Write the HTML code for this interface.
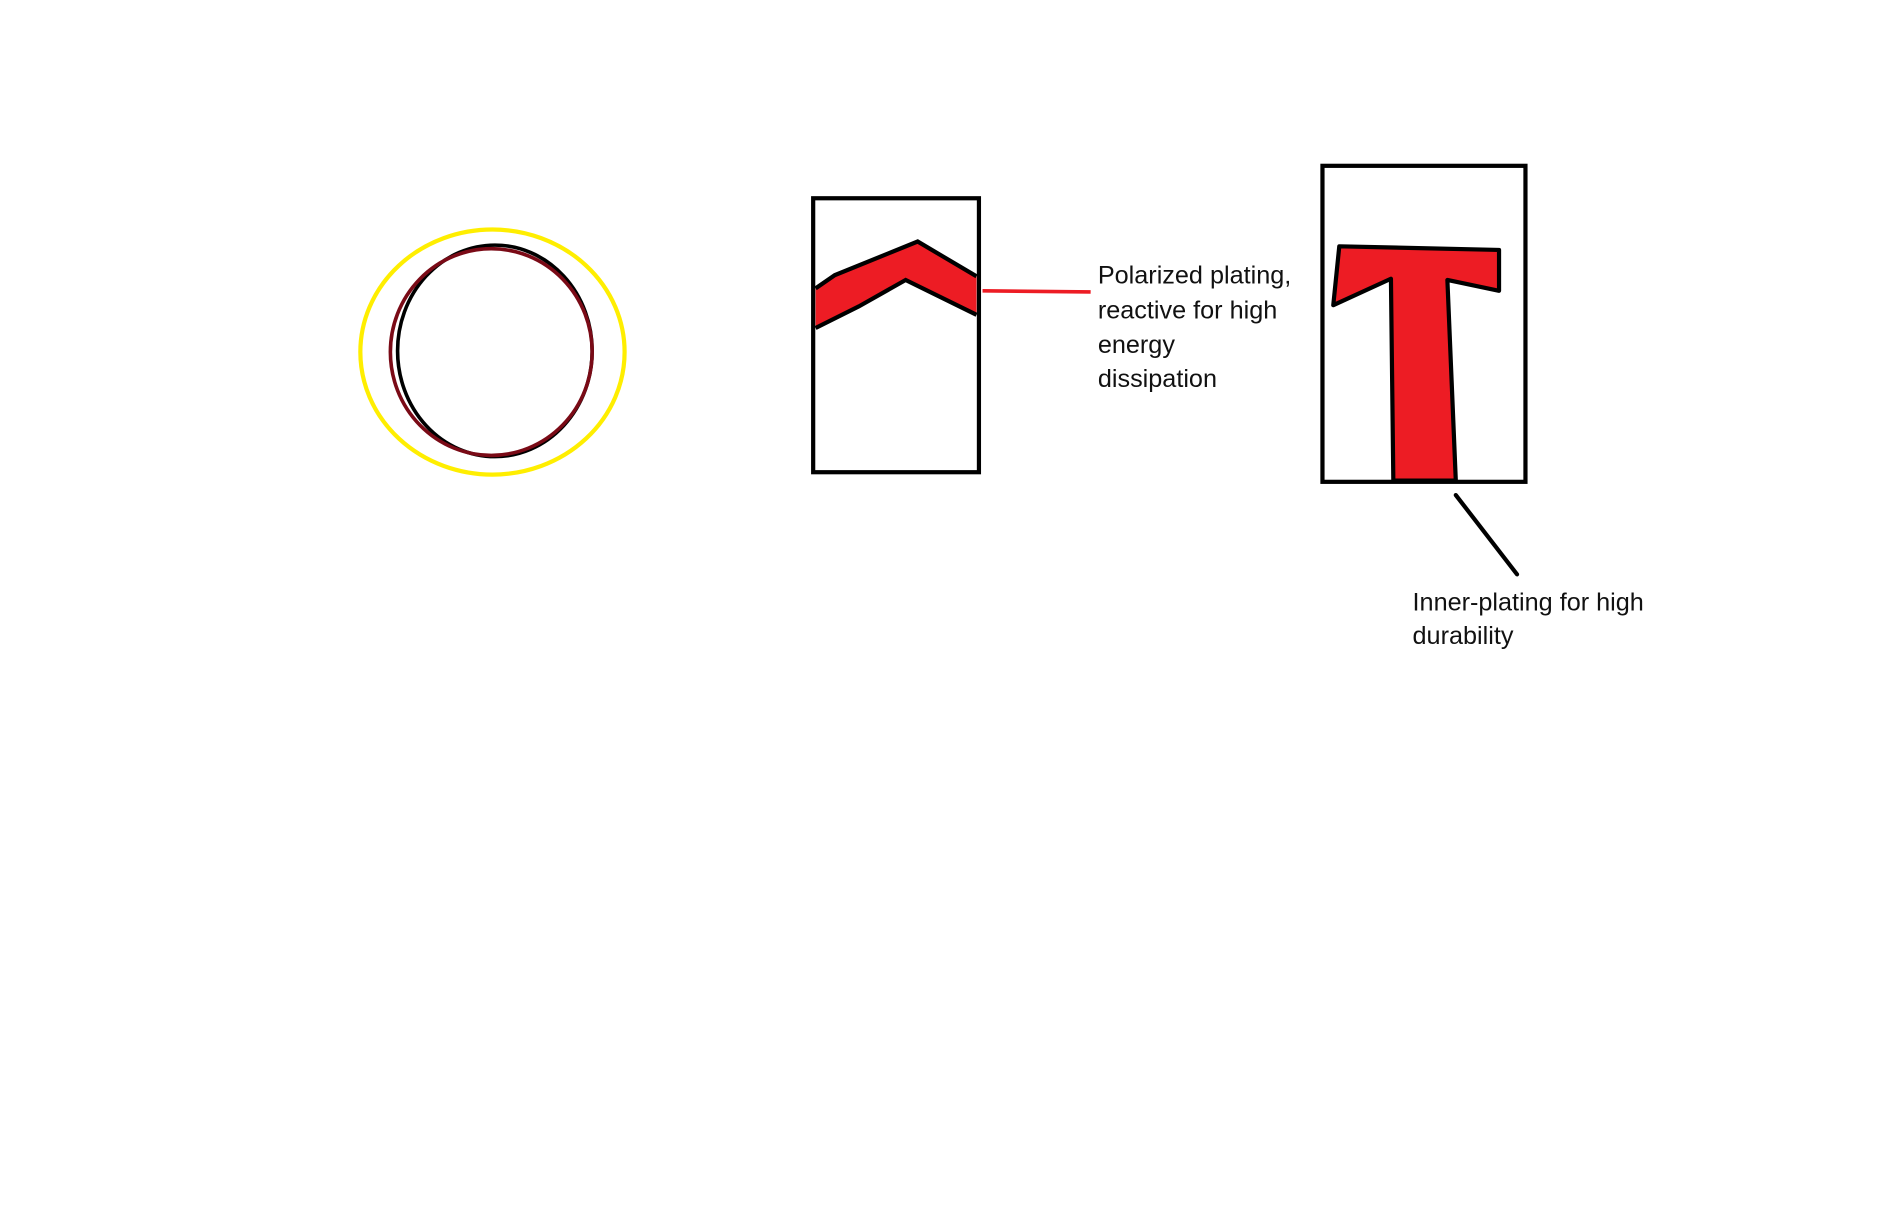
<!DOCTYPE html>
<html><head><meta charset="utf-8"><style>
html,body{margin:0;padding:0;background:#fff;width:1881px;height:1228px;overflow:hidden}
svg{display:block}
text{font-family:"Liberation Sans",sans-serif;font-size:21px;fill:#111}
</style></head><body>
<svg width="1881" height="1228" viewBox="0 0 1566 1022" preserveAspectRatio="none">
<rect width="1566" height="1022" fill="#fff"/>
<g>
<ellipse cx="410" cy="293" rx="110" ry="102" fill="none" stroke="#ffee00" stroke-width="3.5"/>
<ellipse cx="412" cy="292" rx="81" ry="88" fill="none" stroke="#000" stroke-width="3"/>
<ellipse cx="409" cy="293" rx="84" ry="86" fill="none" stroke="#7a0a16" stroke-width="3"/>
</g>
<g>
<rect x="677" y="165" width="138" height="228" fill="#fff" stroke="#000" stroke-width="3.5"/>
<polygon points="679,240 695,229 764,201 813,230 813,262 754,233 715,255 679,273" fill="#ed1c24"/>
<polyline points="679,240 695,229 764,201 813,230" fill="none" stroke="#000" stroke-width="3.5"/>
<polyline points="679,273 715,255 754,233 813,262" fill="none" stroke="#000" stroke-width="3.5"/>
</g>
<line x1="818" y1="242" x2="908" y2="243" stroke="#ed1c24" stroke-width="3"/>
<g>
<text x="914" y="236">Polarized plating,</text>
<text x="914" y="265">reactive for high</text>
<text x="914" y="294">energy</text>
<text x="914" y="322">dissipation</text>
</g>
<g>
<rect x="1101" y="138" width="169" height="263" fill="#fff" stroke="#000" stroke-width="3.5"/>
<polygon points="1115,205 1248,208 1248,242 1205,233 1212,400 1160,400 1158,232 1110,254" fill="#ed1c24" stroke="#000" stroke-width="3.5" stroke-linejoin="round"/>
</g>
<line x1="1212" y1="412" x2="1263" y2="478" stroke="#000" stroke-width="3.5" stroke-linecap="round"/>
<g>
<text x="1176" y="508">Inner-plating for high</text>
<text x="1176" y="536">durability</text>
</g>
</svg>
</body></html>
